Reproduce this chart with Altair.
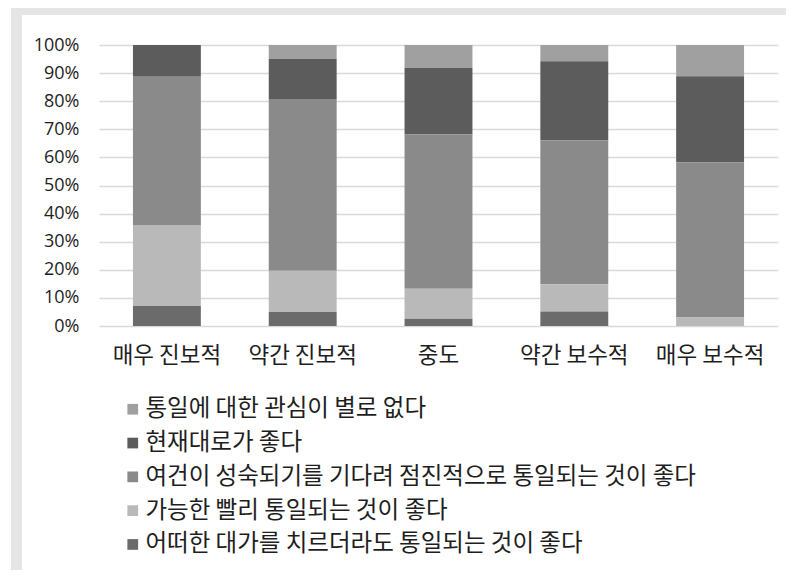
import altair as alt
import pandas as pd

categories = ["매우 진보적", "약간 진보적", "중도", "약간 보수적", "매우 보수적"]
series = [
    "통일에 대한 관심이 별로 없다",
    "현재대로가 좋다",
    "여건이 성숙되기를 기다려 점진적으로 통일되는 것이 좋다",
    "가능한 빨리 통일되는 것이 좋다",
    "어떠한 대가를 치르더라도 통일되는 것이 좋다",
]
v_no_interest = [0.0, 5.0, 8.1, 5.8, 11.1]
v_as_now = [11.3, 14.2, 23.7, 28.1, 30.6]
v_gradual = [52.8, 61.1, 54.9, 51.2, 55.3]
v_fast = [28.8, 14.7, 10.7, 9.7, 3.0]
v_any_cost = [7.1, 5.0, 2.6, 5.2, 0.0]
colors = ["#a0a0a0", "#5c5c5c", "#8a8a8a", "#b9b9b9", "#6b6b6b"]
y_ticks = [0, 0.1, 0.2, 0.3, 0.4, 0.5, 0.6, 0.7, 0.8, 0.9, 1.0]

values = [v_no_interest, v_as_now, v_gradual, v_fast, v_any_cost]
rows = []
for si, (s, vals) in enumerate(zip(series, values)):
    for c, v in zip(categories, vals):
        rows.append({"category": c, "series": s, "value": v, "stack_order": len(series) - 1 - si})
df = pd.DataFrame(rows)

W, H = 679, 281
PAD_L, PAD_T = 91, 37
FRAME = "#e5e5e6"
KFONT = "Noto Sans CJK KR"

bars = alt.Chart(df).mark_bar().encode(
    x=alt.X("category:N", sort=categories, title=None,
            scale=alt.Scale(paddingInner=0.5, paddingOuter=0.25),
            axis=alt.Axis(labelAngle=0, labelFontSize=22.5, labelFont=KFONT, labelColor="#1e1e1e",
                          labelPadding=18, domain=False, ticks=False, grid=False)),
    y=alt.Y("value:Q", stack="normalize", title=None,
            scale=alt.Scale(domain=[0, 1]),
            axis=alt.Axis(values=y_ticks, format=".0%", labelFontSize=18, labelFont="Open Sans",
                          labelColor="#1e1e1e", labelPadding=20, domain=False, ticks=False,
                          grid=True, gridColor="#d9d9d9", gridWidth=1.5)),
    color=alt.Color("series:N", scale=alt.Scale(domain=series, range=colors),
                    legend=alt.Legend(title=None, orient="none", legendX=22, legendY=352.5,
                                      direction="vertical", symbolType="square", symbolSize=115,
                                      symbolStrokeWidth=0, labelFontSize=23.5, labelFont=KFONT,
                                      labelColor="#1e1e1e", labelLimit=0, rowPadding=8.8,
                                      labelOffset=1)),
    order=alt.Order("stack_order:Q", sort="ascending"),
)

one = alt.Data(values=[{"k": 1}])
left_strip = alt.Chart(one).mark_rect(color=FRAME).encode(
    x=alt.value(3 - PAD_L), x2=alt.value(14 - PAD_L),
    y=alt.value(-PAD_T), y2=alt.value(562 - PAD_T),
)
top_strip = alt.Chart(one).mark_rect(color=FRAME).encode(
    x=alt.value(3 - PAD_L), x2=alt.value(778 - PAD_L),
    y=alt.value(-PAD_T), y2=alt.value(7 - PAD_T),
)

chart = alt.layer(left_strip, top_strip, bars).properties(
    width=W, height=H,
    autosize=alt.AutoSizeParams(type="none"),
    padding={"left": PAD_L, "top": PAD_T, "right": 778 - PAD_L - W, "bottom": 562 - PAD_T - H},
    background="white",
).configure_view(stroke=None)

chart.save("out.html", embed_options={"renderer": "svg", "actions": False})
